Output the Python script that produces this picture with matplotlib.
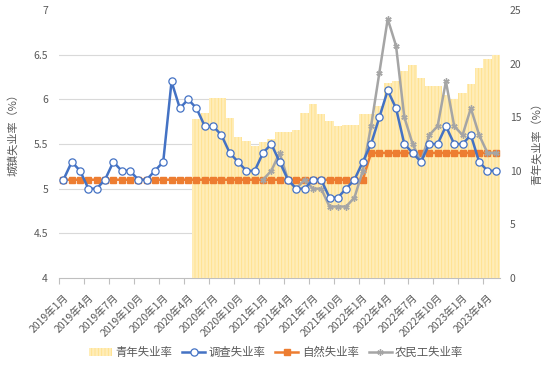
import matplotlib
matplotlib.use("Agg")
import matplotlib.pyplot as plt
from matplotlib.lines import Line2D
from matplotlib.patches import Patch
import numpy as np

plt.rcParams['font.family'] = ['Noto Sans CJK SC', 'DejaVu Sans']
plt.rcParams['hatch.linewidth'] = 0.6

nan = np.nan

# monthly, 2019-01 .. 2023-05
survey_rate = [5.1, 5.3, 5.2, 5.0, 5.0, 5.1, 5.3, 5.2, 5.2, 5.1, 5.1, 5.2,
               5.3, 6.2, 5.9, 6.0, 5.9, 5.7, 5.7, 5.6, 5.4, 5.3, 5.2, 5.2,
               5.4, 5.5, 5.3, 5.1, 5.0, 5.0, 5.1, 5.1, 4.9, 4.9, 5.0, 5.1,
               5.3, 5.5, 5.8, 6.1, 5.9, 5.5, 5.4, 5.3, 5.5, 5.5, 5.7, 5.5,
               5.5, 5.6, 5.3, 5.2, 5.2]
natural_rate = [5.1, 5.1, 5.1, 5.1, 5.1, 5.1, 5.1, 5.1, 5.1, 5.1, 5.1, 5.1,
                5.1, 5.1, 5.1, 5.1, 5.1, 5.1, 5.1, 5.1, 5.1, 5.1, 5.1, 5.1,
                5.1, 5.1, 5.1, 5.1, 5.1, 5.1, 5.1, 5.1, 5.1, 5.1, 5.1, 5.1,
                5.1, 5.4, 5.4, 5.4, 5.4, 5.4, 5.4, 5.4, 5.4, 5.4, 5.4, 5.4,
                5.4, 5.4, 5.4, 5.4, 5.4]
migrant_rate = [nan, nan, nan, nan, nan, nan, nan, nan, nan, nan, nan, nan,
                nan, nan, nan, nan, nan, nan, nan, nan, nan, nan, nan, nan,
                5.1, 5.2, 5.4, 5.1, 5.0, 5.1, 5.0, 5.0, 4.8, 4.8, 4.8, 4.9,
                5.2, 5.7, 6.3, 6.9, 6.6, 5.8, 5.5, 5.3, 5.6, 5.7, 6.2, 5.7,
                5.6, 5.9, 5.6, 5.4, 5.4]
youth_rate = [nan, nan, nan, nan, nan, nan, nan, nan, nan, nan, nan, nan,
              nan, nan, nan, nan, 14.8, 15.4, 16.8, 16.8, 14.9, 13.2, 12.8, 12.3,
              12.7, 13.0, 13.6, 13.6, 13.8, 15.4, 16.2, 15.3, 14.6, 14.2, 14.3, 14.3,
              15.3, 15.3, 16.0, 18.2, 18.4, 19.3, 19.9, 18.7, 17.9, 17.9, 17.1, 16.7,
              17.3, 18.1, 19.6, 20.4, 20.8]

tick_labels = ['2019年1月', '2019年4月', '2019年7月', '2019年10月',
               '2020年1月', '2020年4月', '2020年7月', '2020年10月',
               '2021年1月', '2021年4月', '2021年7月', '2021年10月',
               '2022年1月', '2022年4月', '2022年7月', '2022年10月',
               '2023年1月', '2023年4月']

left_ticks = [4, 4.5, 5, 5.5, 6, 6.5, 7]
left_ticklabels = ['4', '4.5', '5', '5.5', '6', '6.5', '7']
right_ticks = [0, 5, 10, 15, 20, 25]

BLUE = '#4472C4'
ORANGE = '#ED7D31'
GRAY = '#A5A5A5'
TXT = '#595959'

x = np.arange(len(survey_rate))

fig = plt.figure(figsize=(5.5, 3.71), dpi=100)
ax = fig.add_axes([0.1078, 0.2507, 0.909 - 0.1078, 0.973 - 0.2507])
ax_bar = ax.twinx()
ax_line = ax.twinx()
ax.set_zorder(0)
ax_bar.set_zorder(1)
ax_line.set_zorder(2)
ax_bar.patch.set_visible(False)
ax_line.patch.set_visible(False)

# host axis: left scale + grid
ax.set_ylim(4, 7)
ax.set_xlim(-0.5, len(x) - 0.5)
ax.set_yticks(left_ticks)
ax.set_yticklabels(left_ticklabels)
for t in left_ticks[1:-1]:
    ax.axhline(t, color='#D9D9D9', lw=0.8, zorder=0)
ax.tick_params(axis='y', length=0, labelsize=7.5, labelcolor=TXT, pad=8)
for s in ['top', 'left', 'right']:
    ax.spines[s].set_visible(False)
ax.spines['bottom'].set_color('#BFBFBF')
ax.spines['bottom'].set_linewidth(0.8)

ax.set_xticks(np.arange(0, len(x), 3) - 0.5)
ax.set_xticklabels([])
ax.tick_params(axis='x', which='major', length=4, color='#BFBFBF', width=0.8)
ax.set_xticks(np.arange(0, len(x), 3), minor=True)
ax.set_xticklabels(tick_labels, minor=True, rotation=45, ha='right',
                   rotation_mode='anchor', fontsize=7.5, color=TXT)
ax.tick_params(axis='x', which='minor', length=0, pad=10)

# youth bars, right scale
ax_bar.bar(x, youth_rate, width=1.0, color='#FFEDB8', edgecolor='#FFE08A',
           hatch='|||||', linewidth=0)
ax_bar.set_ylim(0, 25)
ax_bar.set_yticks(right_ticks)
ax_bar.tick_params(axis='y', length=0, labelsize=7.5, labelcolor=TXT, pad=7)
for s in ['top', 'left', 'right', 'bottom']:
    ax_bar.spines[s].set_visible(False)

# lines, left scale
ax_line.set_ylim(4, 7)
ax_line.set_yticks([])
for s in ['top', 'left', 'right', 'bottom']:
    ax_line.spines[s].set_visible(False)
ax_line.plot(x, natural_rate, color=ORANGE, lw=1.8, marker='s', ms=4,
             mec=ORANGE, mfc=ORANGE, zorder=2)
ax_line.plot(x, migrant_rate, color=GRAY, lw=1.8, marker=(6, 2, 0), ms=4.5,
             mec=GRAY, zorder=3)
ax_line.plot(x, survey_rate, color=BLUE, lw=1.8, marker='o', ms=5.2,
             mfc='white', mec=BLUE, mew=0.9, zorder=4)

fig.text(12.5 / 550, 1 - 132 / 371, '城镇失业率（%）', rotation=90,
         ha='center', va='center', fontsize=8, color=TXT)
fig.text(537 / 550, 1 - 141 / 371, '青年失业率（%）', rotation=90,
         ha='center', va='center', fontsize=8, color=TXT)

handles = [
    Patch(facecolor='#FFEDB8', edgecolor='#FFE08A', hatch='|||||', linewidth=0),
    Line2D([], [], color=BLUE, lw=1.8, marker='o', ms=5.2, mfc='white', mec=BLUE, mew=0.9),
    Line2D([], [], color=ORANGE, lw=1.8, marker='s', ms=4, mfc=ORANGE, mec=ORANGE),
    Line2D([], [], color=GRAY, lw=1.8, marker=(6, 2, 0), ms=4.5, mec=GRAY),
]
labels = ['青年失业率', '调查失业率', '自然失业率', '农民工失业率']
fig.legend(handles, labels, loc='center', bbox_to_anchor=(276 / 550, 1 - 352 / 371),
           ncol=4, frameon=False, fontsize=8.2, handlelength=2.0,
           handletextpad=0.3, columnspacing=0.9, labelcolor=TXT)

fig.savefig('out.png', dpi=100)
